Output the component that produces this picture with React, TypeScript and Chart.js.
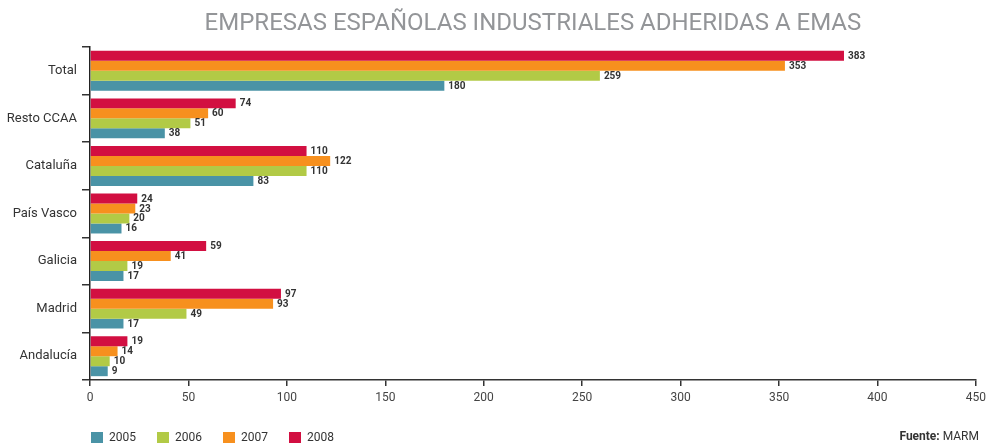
import React, { useEffect, useLayoutEffect, useRef } from "react";
import { Chart, registerables } from "chart.js";

Chart.register(...registerables);

if (typeof document !== "undefined") {
  document.body.style.margin = "0";
}

const TITLE = "EMPRESAS ESPAÑOLAS INDUSTRIALES ADHERIDAS A EMAS";
const categories = ["Total", "Resto CCAA", "Cataluña", "País Vasco", "Galicia", "Madrid", "Andalucía"];
const years = ["2005", "2006", "2007", "2008"];
const values2005 = [180, 38, 83, 16, 17, 17, 9];
const values2006 = [259, 51, 110, 20, 19, 49, 10];
const values2007 = [353, 60, 122, 23, 41, 93, 14];
const values2008 = [383, 74, 110, 24, 59, 97, 19];
const colors = ["#4a93a6", "#b2ca46", "#f7901e", "#d20f41"];
const xMax = 450;
const xStep = 50;

const FONT = "Roboto, 'DejaVu Sans', sans-serif";

const titlePlugin = {
  id: "customTitle",
  afterDraw(chart: any) {
    const { ctx, chartArea } = chart;
    ctx.save();
    ctx.font = `400 24px ${FONT}`;
    ctx.fillStyle = "#939598";
    ctx.textAlign = "center";
    ctx.textBaseline = "middle";
    ctx.fillText(TITLE, (chartArea.left + chartArea.right) / 2, 24);
    ctx.restore();
  },
};

const labelPlugin = {
  id: "valueLabels",
  afterDatasetsDraw(chart: any) {
    const { ctx } = chart;
    ctx.save();
    ctx.font = `700 10px ${FONT}`;
    ctx.fillStyle = "#333333";
    ctx.textAlign = "left";
    ctx.textBaseline = "middle";
    chart.data.datasets.forEach((ds: any, i: number) => {
      const meta = chart.getDatasetMeta(i);
      meta.data.forEach((bar: any, j: number) => {
        ctx.fillText(String(ds.data[j]), bar.x + 4, bar.y + 0.5);
      });
    });
    ctx.restore();
  },
};

export default function App() {
  const ref = useRef<HTMLCanvasElement | null>(null);

  useLayoutEffect(() => {
    document.body.style.margin = "0";
  }, []);

  useEffect(() => {
    if (!ref.current) return;
    const series = [
      { label: years[3], data: values2008, color: colors[3] },
      { label: years[2], data: values2007, color: colors[2] },
      { label: years[1], data: values2006, color: colors[1] },
      { label: years[0], data: values2005, color: colors[0] },
    ];
    const chart = new Chart(ref.current, {
      type: "bar",
      data: {
        labels: categories,
        datasets: series.map((s) => ({
          label: s.label,
          data: s.data,
          backgroundColor: s.color,
          borderWidth: 0,
          categoryPercentage: 0.84,
          barPercentage: 1,
        })),
      },
      options: {
        indexAxis: "y",
        animation: false,
        responsive: true,
        maintainAspectRatio: false,
        layout: { padding: { top: 47, right: 12, bottom: 0, left: 0 } },
        plugins: {
          legend: { display: false },
          title: { display: false },
          tooltip: { enabled: false },
        },
        scales: {
          x: {
            min: 0,
            max: xMax,
            ticks: { stepSize: xStep, color: "#444", font: { family: FONT, size: 12 }, padding: 5 },
            grid: { drawOnChartArea: false, drawTicks: true, tickLength: 6, color: "#333", lineWidth: 1.5 },
            border: { display: true, color: "#333", width: 1.5 },
            afterFit: (scale: any) => {
              scale.height = 66;
            },
          },
          y: {
            ticks: { color: "#333", font: { family: FONT, size: 13 }, padding: 5 },
            grid: { drawOnChartArea: false, drawTicks: true, tickLength: 8, color: "#333", lineWidth: 1.5, offset: true },
            border: { display: true, color: "#222", width: 1.5 },
            afterFit: (scale: any) => {
              scale.width = 90;
            },
          },
        },
      },
      plugins: [titlePlugin, labelPlugin],
    } as any);
    return () => chart.destroy();
  }, []);

  return (
    <div style={{ position: "relative", width: 991, height: 446, fontFamily: FONT, overflow: "hidden", background: "#fff" }}>
      <canvas ref={ref} style={{ position: "absolute", left: 0, top: 0 }} />
      <div
        style={{
          position: "absolute",
          left: 91,
          top: 431,
          display: "flex",
          alignItems: "center",
          fontSize: 12,
          color: "#333",
          lineHeight: "13px",
        }}
      >
        {years.map((y, i) => (
          <div key={y} style={{ display: "flex", alignItems: "center", width: 66 }}>
            <span style={{ display: "inline-block", width: 12, height: 11, background: colors[i], marginRight: 6 }} />
            <span>{y}</span>
          </div>
        ))}
      </div>
      <div
        style={{
          position: "absolute",
          right: 12,
          top: 430,
          fontSize: 12,
          color: "#333",
          lineHeight: "13px",
        }}
      >
        <b>Fuente:</b> MARM
      </div>
    </div>
  );
}
